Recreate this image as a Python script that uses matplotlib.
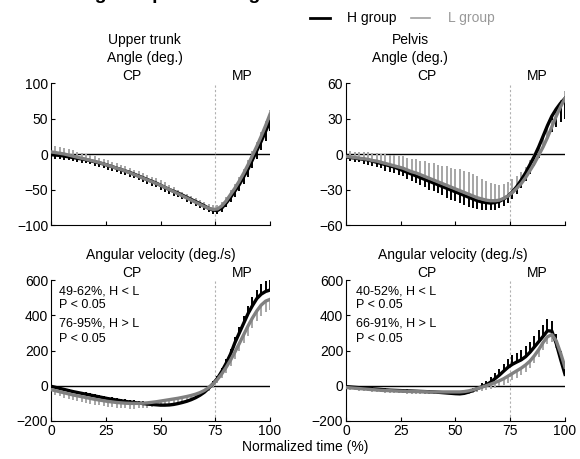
import numpy as np
import matplotlib
matplotlib.use('Agg')
import matplotlib.pyplot as plt
from matplotlib.lines import Line2D

plt.rcParams['font.family'] = ['Liberation Sans', 'DejaVu Sans']

# normalized time, every 2 %
time_pct = np.arange(0, 101, 2)

# upper trunk angle (deg.)
ta_h = [-1, -1.5, -2, -3, -4, -5, -6, -7, -8, -9.5,
        -11, -12.5, -14, -16, -18, -20, -22, -24, -26, -28.5,
        -31, -33.5, -36, -38.5, -41, -44, -47, -50, -52.5, -55,
        -58, -61, -64, -67, -70, -73, -76.5, -79, -79.5, -76,
        -69, -61, -52, -43, -32, -21, -8, 5, 18, 32,
        46]
ta_l = [3, 2, 1, 0, -1.5, -3, -4.5, -6, -7.5, -9,
        -10.5, -12, -14, -16, -18, -20, -22, -24, -26.5, -29,
        -31.5, -34, -36.5, -39, -41.5, -44, -47, -50, -53, -56,
        -59, -62, -65, -68, -71, -74, -76.5, -78, -77.5, -73,
        -66, -57, -48, -38, -27, -15, -2, 11, 25, 40,
        56]
ta_h_sd = [5, 5, 5, 5, 5, 5, 5, 5, 5, 5, 6, 6, 6, 6, 6, 6, 6, 6, 6, 6,
           6, 6, 6, 6, 6, 6, 6, 6, 6, 6, 6, 6, 6, 6, 6, 6, 5, 5, 5, 5,
           6, 7, 8, 9, 10, 11, 12, 12, 12, 13, 14]
ta_l_sd = [9, 9, 9, 8, 8, 8, 7, 7, 7, 7, 7, 7, 7, 7, 7, 7, 7, 7, 7, 7,
           7, 7, 7, 7, 7, 7, 7, 7, 6, 6, 6, 6, 6, 6, 6, 6, 6, 6, 6, 6,
           6, 6, 6, 6, 6, 6, 6, 6, 6, 6, 6]

# pelvis angle (deg.)
pa_h = [-2.5, -3, -3.5, -4, -4.5, -5, -6, -7, -8, -9,
        -10, -11, -12.5, -14, -15.5, -17, -18.5, -20, -21.5, -23,
        -24.5, -26, -27.5, -29, -30.5, -32, -33.5, -35, -36.5, -38,
        -39.5, -40.5, -41, -41.5, -41, -40, -38, -35.5, -32, -27.5,
        -22, -16, -9, -2, 6, 15, 24, 32, 38, 43,
        47]
pa_l = [-2, -2.5, -3, -3.5, -4, -4.5, -5.5, -6, -7, -8,
        -9, -10, -11, -12, -13.5, -15, -16, -17.5, -19, -20.5,
        -22, -23.5, -25, -26.5, -28, -29.5, -31, -32.5, -34, -35.5,
        -37, -38, -39, -39.5, -39.5, -39, -37.5, -35.5, -32.5, -29,
        -25, -20, -14, -8, -1, 6, 14, 23, 32, 40,
        47]
pa_h_sd = [3, 3, 3, 3, 4, 4, 4, 4, 4, 5, 5, 5, 5, 5, 6, 6, 6, 6, 6, 7,
           7, 7, 7, 8, 8, 8, 8, 8, 8, 8, 7, 7, 6, 6, 6, 6, 6, 6, 6, 6,
           7, 7, 8, 8, 9, 10, 11, 13, 15, 16, 17]
pa_l_sd = [5, 5, 5, 5, 6, 6, 6, 7, 7, 8, 8, 9, 9, 10, 10, 11, 12, 12, 13, 13,
           14, 14, 15, 16, 16, 17, 18, 18, 19, 19, 18, 17, 16, 15, 14, 13, 12, 12, 11, 10,
           10, 9, 9, 8, 8, 7, 7, 6, 6, 6, 6]

# upper trunk angular velocity (deg./s)
tv_h = [-3, -9, -15, -21, -27, -33, -38, -43, -48, -53,
        -58, -63, -68, -73, -77, -81, -85, -89, -92, -95,
        -98, -101, -104, -106, -108, -110, -110, -109, -106, -101,
        -95, -88, -79, -68, -54, -37, -14, 12, 42, 82,
        128, 180, 245, 300, 355, 410, 455, 495, 520, 535,
        543]
tv_l = [-22, -28, -34, -40, -46, -52, -57, -62, -67, -72,
        -77, -81, -85, -89, -92, -95, -97, -99, -100, -100,
        -100, -99, -97, -94, -91, -87, -83, -79, -75, -71,
        -66, -61, -55, -48, -39, -27, -10, 10, 36, 68,
        105, 146, 192, 240, 290, 340, 385, 425, 458, 480,
        490]
tv_h_sd = [10, 10, 10, 10, 10, 10, 10, 10, 12, 12, 12, 12, 12, 12, 12, 12, 12, 12, 12, 12,
           12, 12, 12, 12, 12, 12, 12, 12, 12, 12, 12, 12, 12, 14, 15, 15, 15, 15, 16, 18,
           22, 26, 30, 34, 38, 42, 46, 50, 55, 58, 60]
tv_l_sd = [25, 25, 25, 28, 28, 28, 30, 30, 30, 30, 30, 30, 30, 30, 30, 30, 30, 30, 30, 30,
           28, 28, 28, 25, 25, 25, 25, 22, 22, 22, 20, 20, 20, 20, 20, 20, 20, 20, 22, 25,
           30, 35, 40, 45, 50, 55, 60, 60, 60, 60, 60]

# pelvis angular velocity (deg./s)
pv_h = [-5, -7, -9, -11, -13, -15, -17, -19, -21, -23,
        -25, -26, -27, -28, -29, -30, -31, -32, -33, -34,
        -35, -37, -39, -41, -43, -45, -46, -43, -36, -27,
        -16, -6, 5, 20, 40, 60, 83, 105, 122, 135,
        147, 165, 190, 220, 250, 280, 312, 310, 240, 150,
        65]
pv_l = [-10, -12, -14, -16, -18, -20, -22, -24, -26, -27,
        -28, -29, -30, -31, -32, -33, -33, -34, -34, -35,
        -35, -35, -35, -35, -35, -35, -35, -33, -29, -23,
        -16, -8, 0, 9, 18, 28, 40, 55, 70, 85,
        100, 118, 140, 170, 205, 245, 278, 290, 255, 185,
        105]
pv_h_sd = [8, 8, 8, 8, 8, 8, 8, 8, 8, 8, 8, 8, 8, 8, 8, 8, 8, 8, 8, 8,
           8, 8, 8, 8, 8, 8, 8, 10, 12, 14, 16, 20, 24, 28, 32, 36, 40, 45, 50, 52,
           55, 58, 60, 62, 64, 65, 65, 60, 55, 50, 45]
pv_l_sd = [12, 12, 12, 12, 12, 12, 12, 12, 12, 12, 12, 12, 12, 12, 12, 12, 12, 12, 12, 12,
           12, 12, 12, 12, 12, 12, 12, 14, 16, 18, 20, 22, 25, 28, 30, 32, 35, 38, 40, 40,
           40, 40, 40, 40, 40, 40, 40, 40, 40, 40, 40]

ta_ticks = [-100, -50, 0, 50, 100]
pa_ticks = [-60, -30, 0, 30, 60]
vel_ticks = [-200, 0, 200, 400, 600]
x_ticks = [0, 25, 50, 75, 100]

notes_trunk = ['49-62%, H < L', 'P < 0.05', '76-95%, H > L', 'P < 0.05']
notes_pelvis = ['40-52%, H < L', 'P < 0.05', '66-91%, H > L', 'P < 0.05']

W, H = 580, 459
H_COL = 'black'
L_COL = '#808080'
L_BAR = '#a6a6a6'


def fx(px):
    return px / W


def fy(py):
    return 1 - py / H


def panel(rect, h, h_sd, l, l_sd, h_dir, yticks, xlabels):
    ax = fig.add_axes(rect)
    h = np.array(h, float)
    l = np.array(l, float)
    ax.vlines(time_pct, h, h + h_dir * np.array(h_sd), color=H_COL, lw=1.4, zorder=2)
    ax.vlines(time_pct, l, l - h_dir * np.array(l_sd), color=L_BAR, lw=1.4, zorder=2)
    ax.axhline(0, color='black', lw=1, zorder=1)
    ax.axvline(75, color='#b0b0b0', lw=0.8, ls=(0, (2, 2)), zorder=1)
    ax.plot(time_pct, h, color=H_COL, lw=2.4, zorder=3)
    ax.plot(time_pct, l, color=L_COL, lw=2.4, zorder=4)
    ax.set_xlim(0, 100)
    ax.set_ylim(yticks[0], yticks[-1])
    ax.set_yticks(yticks)
    ax.set_xticks(x_ticks)
    if not xlabels:
        ax.set_xticklabels([])
    for s in ['top', 'right']:
        ax.spines[s].set_visible(False)
    ax.tick_params(direction='in', length=3, labelsize=10, pad=2)
    ax.text(37, 1.0, 'CP', transform=ax.get_xaxis_transform(), ha='center', va='bottom', fontsize=10)
    ax.text(87.5, 1.0, 'MP', transform=ax.get_xaxis_transform(), ha='center', va='bottom', fontsize=10)
    return ax


fig = plt.figure(figsize=(5.8, 4.59), dpi=100)

top_y, top_h = fy(225), 142 / H
bot_y, bot_h = fy(421), 141 / H
aw = 219 / W

panel([fx(51), top_y, aw, top_h], ta_h, ta_h_sd, ta_l, ta_l_sd, -1, ta_ticks, False)
panel([fx(346), top_y, aw, top_h], pa_h, pa_h_sd, pa_l, pa_l_sd, -1, pa_ticks, False)
panel([fx(51), bot_y, aw, bot_h], tv_h, tv_h_sd, tv_l, tv_l_sd, 1, vel_ticks, True)
panel([fx(346), bot_y, aw, bot_h], pv_h, pv_h_sd, pv_l, pv_l_sd, 1, vel_ticks, True)

# headings
fig.text(fx(144), fy(40), 'Upper trunk', ha='center', va='center', fontsize=10)
fig.text(fx(145), fy(58), 'Angle (deg.)', ha='center', va='center', fontsize=10)
fig.text(fx(410), fy(40), 'Pelvis', ha='center', va='center', fontsize=10)
fig.text(fx(410), fy(58), 'Angle (deg.)', ha='center', va='center', fontsize=10)
fig.text(fx(161), fy(255), 'Angular velocity (deg./s)', ha='center', va='center', fontsize=10)
fig.text(fx(453), fy(255), 'Angular velocity (deg./s)', ha='center', va='center', fontsize=10)
fig.text(fx(305), fy(447), 'Normalized time (%)', ha='center', va='center', fontsize=10)

# figure title, cut off at the top edge as in the source
fig.text(fx(43), fy(-1), 'Timing and peak of angle', ha='left', va='baseline',
         fontsize=14, fontweight='bold')

# annotations
for x0, notes in [(59, notes_trunk), (356, notes_pelvis)]:
    for yy, t in zip([295, 307.5, 326, 341.5], notes):
        fig.text(fx(x0), fy(yy), t, ha='left', va='baseline', fontsize=9)

# legend
fig.add_artist(Line2D([fx(310), fx(330)], [fy(18), fy(18)], color='black', lw=2))
fig.text(fx(347), fy(18), 'H group', ha='left', va='center', fontsize=10)
fig.add_artist(Line2D([fx(411), fx(430)], [fy(18), fy(18)], color='#a0a0a0', lw=1.2))
fig.text(fx(448), fy(18), 'L group', ha='left', va='center', fontsize=10, color='#999999')

fig.savefig('out.png', dpi=100)
